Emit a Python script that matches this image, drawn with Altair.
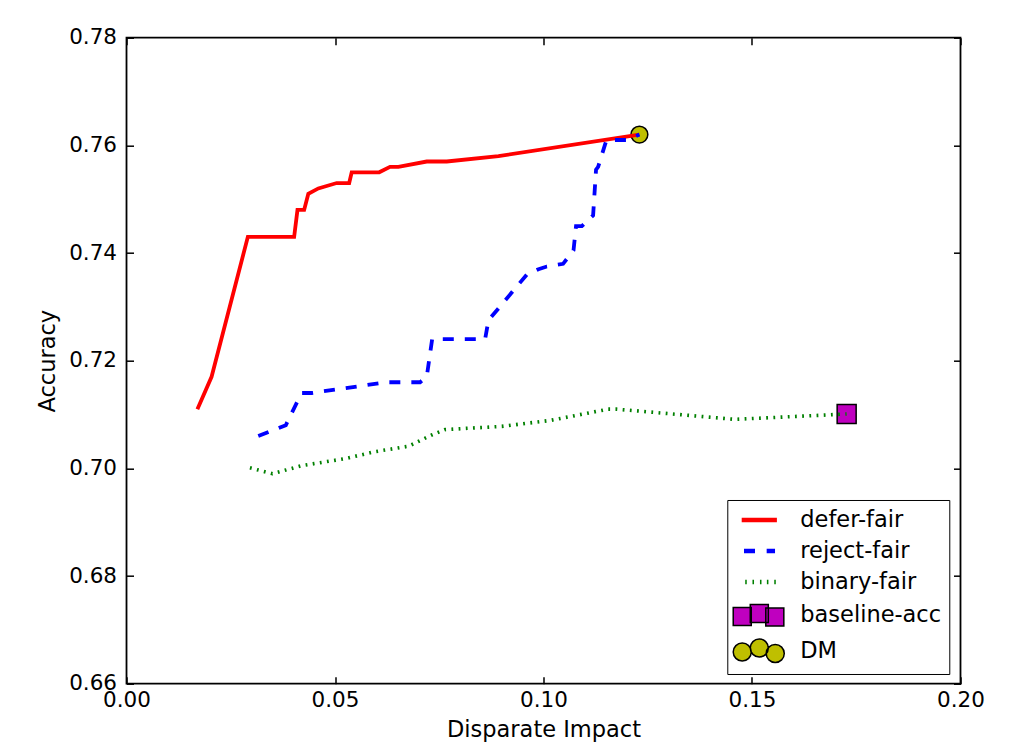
import altair as alt
import pandas as pd

# ---------------- data ----------------
names = ["defer-fair", "reject-fair", "binary-fair", "baseline-acc", "DM"]

defer_x = [0.0170, 0.0204, 0.0291, 0.0402, 0.0410, 0.0426, 0.0436, 0.0460, 0.0504,
           0.0534, 0.0540, 0.0606, 0.0632, 0.0652, 0.0720, 0.0768, 0.0892, 0.1230]
defer_y = [0.711, 0.717, 0.743, 0.743, 0.748, 0.748, 0.751, 0.752, 0.753,
           0.753, 0.755, 0.755, 0.756, 0.756, 0.757, 0.757, 0.758, 0.762]

reject_x = [0.0316, 0.0382, 0.0388, 0.0420, 0.0444, 0.0624, 0.0704, 0.0720, 0.0733,
            0.0860, 0.0868, 0.0960, 0.0988, 0.1008, 0.1047, 0.1072, 0.1078, 0.1092,
            0.1119, 0.1126, 0.1131, 0.1151, 0.1167, 0.1199, 0.1230]
reject_y = [0.706, 0.708, 0.709, 0.714, 0.714, 0.716, 0.716, 0.717, 0.724,
            0.724, 0.7275, 0.736, 0.737, 0.7375, 0.738, 0.7405, 0.745, 0.745,
            0.747, 0.7555, 0.756, 0.761, 0.761, 0.761, 0.762]

binary_x = [0.0296, 0.0350, 0.0420, 0.0524, 0.0596, 0.0676, 0.0732, 0.0764,
            0.0900, 0.1016, 0.1155, 0.1175, 0.1459, 0.1727]
binary_y = [0.7001, 0.6990, 0.7005, 0.7018, 0.7031, 0.7041, 0.7062, 0.7072,
            0.7078, 0.7089, 0.7110, 0.7110, 0.7091, 0.7101]

baseline_x = [0.1727]
baseline_y = [0.7101]
dm_x = [0.1230]
dm_y = [0.7620]

xticks = [0.0, 0.05, 0.10, 0.15, 0.20]
yticks = [0.66, 0.68, 0.70, 0.72, 0.74, 0.76, 0.78]

# ---------------- styling ----------------
FONT = "DejaVu Sans"
FS = 21.5
FS_T = 22.5
W, H = 834, 646

fills = ["#ff0000", "#0000ff", "#008000", "#bf00bf", "#bfbf00"]
strokes = ["transparent", "transparent", "transparent", "black", "black"]


def rect(x0, x1, y0, y1):
    return f"M{x0},{y0}H{x1}V{y1}H{x0}Z"


def circ(cx, cy, r):
    k = 0.5523 * r
    return (f"M{cx + r},{cy}C{cx + r},{cy + k} {cx + k},{cy + r} {cx},{cy + r}"
            f"C{cx - k},{cy + r} {cx - r},{cy + k} {cx - r},{cy}"
            f"C{cx - r},{cy - k} {cx - k},{cy - r} {cx},{cy - r}"
            f"C{cx + k},{cy - r} {cx + r},{cy - k} {cx + r},{cy}Z")


sym_red = rect(-1.6, 1.6, -0.2, 0.2)
sym_blue = rect(-1.39, -0.39, -0.2, 0.2) + rect(0.67, 1.43, -0.2, 0.2)
sym_green = "".join(rect(c - 0.07, c + 0.07, -0.2, 0.2) for c in [-1.21, -0.55, 0.13, 0.76, 1.43])
sym_sq = "".join(rect(cx - 0.82, cx + 0.82, cy - 0.82, cy + 0.82)
                 for cx, cy in [(-1.55, 0.14), (0.0, -0.14), (1.41, 0.18)])
sym_ci = "".join(circ(cx, cy, 0.82) for cx, cy in [(-1.55, 0.09), (0.0, -0.27), (1.45, 0.23)])
paths = [sym_red, sym_blue, sym_green, sym_sq, sym_ci]


def frame(xs, ys, name):
    return pd.DataFrame({"x": xs, "y": ys, "series": name, "order": list(range(len(xs)))})


xsc = alt.Scale(domain=[0, 0.2], nice=False, zero=False)
ysc = alt.Scale(domain=[0.66, 0.78], nice=False, zero=False)

lab_common = dict(labelFont=FONT, labelFontSize=FS, labelColor="black", titleFont=FONT,
                  titleFontSize=FS_T, titleFontWeight="normal", titleColor="black",
                  grid=False, domain=False, ticks=False, tickSize=0, format=".2f",
                  labelFlush=False, labelOverlap=False)
tick_common = dict(labels=False, domain=False, grid=False, ticks=True, tickSize=7,
                   tickColor="black", tickWidth=1.5, title=None)

x_lab = alt.Axis(orient="bottom", values=xticks, labelPadding=6, title="Disparate Impact",
                 titlePadding=7, **lab_common)
y_lab = alt.Axis(orient="left", values=yticks, labelPadding=10, title="Accuracy",
                 titlePadding=9, **lab_common)
x_in_bottom = alt.Axis(orient="top", offset=-H, values=xticks, **tick_common)
x_in_top = alt.Axis(orient="bottom", offset=-H, values=xticks, **tick_common)
y_in_left = alt.Axis(orient="right", offset=-W, values=yticks, **tick_common)
y_in_right = alt.Axis(orient="left", offset=-W, values=yticks, **tick_common)

square = alt.Chart(frame(baseline_x, baseline_y, "baseline-acc")).mark_square(
    size=361, color="#bf00bf", stroke="black", strokeWidth=1.5, opacity=1
).encode(x=alt.X("x:Q", scale=xsc, axis=x_lab), y=alt.Y("y:Q", scale=ysc, axis=y_lab))

circle = alt.Chart(frame(dm_x, dm_y, "DM")).mark_circle(
    size=283, color="#bfbf00", stroke="black", strokeWidth=1.5, opacity=1
).encode(x=alt.X("x:Q", scale=xsc, axis=x_in_bottom), y=alt.Y("y:Q", scale=ysc, axis=y_in_left))

red = alt.Chart(frame(defer_x, defer_y, "defer-fair")).mark_line(
    color="#ff0000", strokeWidth=3.8
).encode(x=alt.X("x:Q", scale=xsc, axis=x_in_top), y=alt.Y("y:Q", scale=ysc, axis=y_in_right),
         order="order:Q")

blue = alt.Chart(frame(reject_x, reject_y, "reject-fair")).mark_line(
    color="#0000ff", strokeWidth=3.8, strokeDash=[11, 11]
).encode(x=alt.X("x:Q", scale=xsc, axis=None), y=alt.Y("y:Q", scale=ysc, axis=None),
         order="order:Q")

green = alt.Chart(frame(binary_x, binary_y, "binary-fair")).mark_line(
    color="#008000", strokeWidth=3.6, strokeDash=[1.8, 5.4]
).encode(x=alt.X("x:Q", scale=xsc, axis=None), y=alt.Y("y:Q", scale=ysc, axis=None),
         order="order:Q")

leg = alt.Legend(orient="none", legendX=600.8, legendY=462.3, title=None,
                 labelFont=FONT, labelFontSize=FS_T, labelColor="black",
                 symbolSize=484, symbolStrokeWidth=1.5, symbolOpacity=1,
                 padding=8, rowPadding=7, symbolOffset=12, labelOffset=29,
                 strokeColor="black", fillColor="white", cornerRadius=0)

legend_layer = alt.Chart(pd.DataFrame({"series": names})).transform_filter("false").mark_point(
    filled=True, opacity=1, strokeWidth=1.5
).encode(
    shape=alt.Shape("series:N", scale=alt.Scale(domain=names, range=paths), legend=leg),
    fill=alt.Fill("series:N", scale=alt.Scale(domain=names, range=fills), legend=leg),
    stroke=alt.Stroke("series:N", scale=alt.Scale(domain=names, range=strokes), legend=leg),
)

chart = alt.layer(square, circle, red, blue, green, legend_layer).resolve_axis(
    x="independent", y="independent"
).properties(
    width=W, height=H,
    autosize=alt.AutoSizeParams(type="none"),
    padding={"left": 118.5, "top": 29.7, "right": 50, "bottom": 62},
).configure_view(stroke="black", strokeWidth=1.8)

chart.save("out.html", embed_options={"renderer": "svg", "actions": False})
